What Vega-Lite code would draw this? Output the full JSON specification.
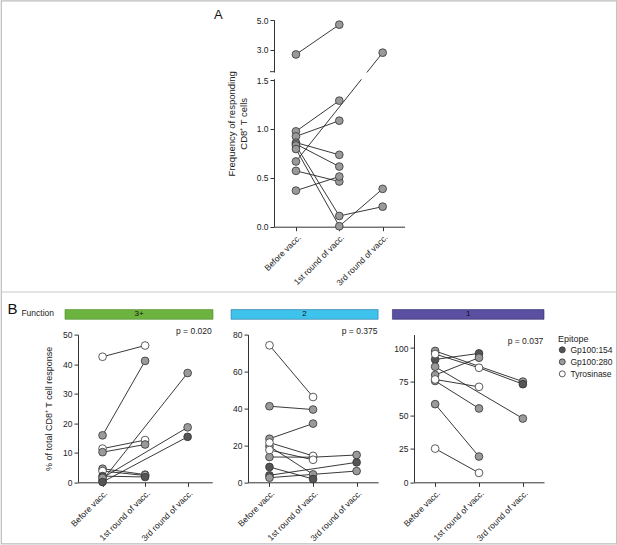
{
  "$schema": "https://vega.github.io/schema/vega-lite/v6.json",
  "padding": 0,
  "autosize": {"type": "pad"},
  "background": "white",
  "config": {
    "font": "Liberation Sans",
    "view": {"stroke": null},
    "axis": {
      "grid": false,
      "domainColor": "#333333",
      "tickColor": "#333333",
      "labelColor": "#222222",
      "titleColor": "#222222",
      "labelFontSize": 8.5,
      "titleFontSize": 9,
      "titleFontWeight": "normal",
      "tickSize": 4,
      "labelPadding": 2
    },
    "text": {"color": "#222222"}
  },
  "datasets": {
    "A": [
      {"id": "a1", "t": 0, "time": "Before vacc.", "value": 2.7},
      {"id": "a1", "t": 1, "time": "1st round of vacc.", "value": 4.69},
      {"id": "a2", "t": 0, "time": "Before vacc.", "value": 0.975},
      {"id": "a2", "t": 1, "time": "1st round of vacc.", "value": 1.289},
      {"id": "a3", "t": 0, "time": "Before vacc.", "value": 0.923},
      {"id": "a3", "t": 1, "time": "1st round of vacc.", "value": 1.084},
      {"id": "a4", "t": 0, "time": "Before vacc.", "value": 0.86},
      {"id": "a4", "t": 1, "time": "1st round of vacc.", "value": 0.735},
      {"id": "a5", "t": 0, "time": "Before vacc.", "value": 0.845},
      {"id": "a5", "t": 1, "time": "1st round of vacc.", "value": 0.615},
      {"id": "a6", "t": 0, "time": "Before vacc.", "value": 0.83},
      {"id": "a6", "t": 1, "time": "1st round of vacc.", "value": 0.11},
      {"id": "a6", "t": 2, "time": "3rd round of vacc.", "value": 0.205},
      {"id": "a7", "t": 0, "time": "Before vacc.", "value": 0.794},
      {"id": "a7", "t": 1, "time": "1st round of vacc.", "value": 0.005},
      {"id": "a7", "t": 2, "time": "3rd round of vacc.", "value": 0.387},
      {"id": "a8", "t": 0, "time": "Before vacc.", "value": 0.667},
      {"id": "a8", "t": 2, "time": "3rd round of vacc.", "value": 2.82},
      {"id": "a9", "t": 0, "time": "Before vacc.", "value": 0.571},
      {"id": "a9", "t": 1, "time": "1st round of vacc.", "value": 0.462},
      {"id": "a10", "t": 0, "time": "Before vacc.", "value": 0.369},
      {"id": "a10", "t": 1, "time": "1st round of vacc.", "value": 0.513}
    ],
    "B": [
      {"panel": "3+", "id": "b1", "t": 0, "time": "Before vacc.", "value": 42.5, "epitope": "Tyrosinase"},
      {"panel": "3+", "id": "b1", "t": 1, "time": "1st round of vacc.", "value": 46.3, "epitope": "Tyrosinase"},
      {"panel": "3+", "id": "b2", "t": 0, "time": "Before vacc.", "value": 15.9, "epitope": "Gp100:280"},
      {"panel": "3+", "id": "b2", "t": 1, "time": "1st round of vacc.", "value": 41.1, "epitope": "Gp100:280"},
      {"panel": "3+", "id": "b3", "t": 0, "time": "Before vacc.", "value": 11.4, "epitope": "Tyrosinase"},
      {"panel": "3+", "id": "b3", "t": 1, "time": "1st round of vacc.", "value": 14.3, "epitope": "Tyrosinase"},
      {"panel": "3+", "id": "b4", "t": 0, "time": "Before vacc.", "value": 10.2, "epitope": "Gp100:280"},
      {"panel": "3+", "id": "b4", "t": 1, "time": "1st round of vacc.", "value": 12.8, "epitope": "Gp100:280"},
      {"panel": "3+", "id": "b5", "t": 0, "time": "Before vacc.", "value": 4.6, "epitope": "Gp100:280"},
      {"panel": "3+", "id": "b5", "t": 1, "time": "1st round of vacc.", "value": 2.6, "epitope": "Gp100:280"},
      {"panel": "3+", "id": "b6", "t": 0, "time": "Before vacc.", "value": 3.8, "epitope": "Tyrosinase"},
      {"panel": "3+", "id": "b6", "t": 1, "time": "1st round of vacc.", "value": 2.3, "epitope": "Tyrosinase"},
      {"panel": "3+", "id": "b7", "t": 0, "time": "Before vacc.", "value": 2.1, "epitope": "Gp100:154"},
      {"panel": "3+", "id": "b7", "t": 1, "time": "1st round of vacc.", "value": 1.8, "epitope": "Gp100:154"},
      {"panel": "3+", "id": "b8", "t": 0, "time": "Before vacc.", "value": 0.7, "epitope": "Gp100:280"},
      {"panel": "3+", "id": "b8", "t": 2, "time": "3rd round of vacc.", "value": 37.0, "epitope": "Gp100:280"},
      {"panel": "3+", "id": "b9", "t": 0, "time": "Before vacc.", "value": 1.5, "epitope": "Gp100:280"},
      {"panel": "3+", "id": "b9", "t": 2, "time": "3rd round of vacc.", "value": 18.6, "epitope": "Gp100:280"},
      {"panel": "3+", "id": "b10", "t": 0, "time": "Before vacc.", "value": 0.1, "epitope": "Gp100:154"},
      {"panel": "3+", "id": "b10", "t": 2, "time": "3rd round of vacc.", "value": 15.4, "epitope": "Gp100:154"},

      {"panel": "2", "id": "c1", "t": 0, "time": "Before vacc.", "value": 74.2, "epitope": "Tyrosinase"},
      {"panel": "2", "id": "c1", "t": 1, "time": "1st round of vacc.", "value": 46.2, "epitope": "Tyrosinase"},
      {"panel": "2", "id": "c2", "t": 0, "time": "Before vacc.", "value": 41.2, "epitope": "Gp100:280"},
      {"panel": "2", "id": "c2", "t": 1, "time": "1st round of vacc.", "value": 39.4, "epitope": "Gp100:280"},
      {"panel": "2", "id": "c3", "t": 0, "time": "Before vacc.", "value": 23.6, "epitope": "Gp100:280"},
      {"panel": "2", "id": "c3", "t": 1, "time": "1st round of vacc.", "value": 31.8, "epitope": "Gp100:280"},
      {"panel": "2", "id": "c6", "t": 0, "time": "Before vacc.", "value": 19.5, "epitope": "Gp100:280"},
      {"panel": "2", "id": "c6", "t": 1, "time": "1st round of vacc.", "value": 4.3, "epitope": "Gp100:280"},
      {"panel": "2", "id": "c7", "t": 0, "time": "Before vacc.", "value": 13.7, "epitope": "Gp100:280"},
      {"panel": "2", "id": "c7", "t": 1, "time": "1st round of vacc.", "value": 13.6, "epitope": "Gp100:280"},
      {"panel": "2", "id": "c7", "t": 2, "time": "3rd round of vacc.", "value": 14.8, "epitope": "Gp100:280"},
      {"panel": "2", "id": "c8", "t": 0, "time": "Before vacc.", "value": 8.3, "epitope": "Gp100:154"},
      {"panel": "2", "id": "c8", "t": 1, "time": "1st round of vacc.", "value": 1.8, "epitope": "Gp100:154"},
      {"panel": "2", "id": "c9", "t": 0, "time": "Before vacc.", "value": 3.8, "epitope": "Gp100:154"},
      {"panel": "2", "id": "c9", "t": 2, "time": "3rd round of vacc.", "value": 10.8, "epitope": "Gp100:154"},
      {"panel": "2", "id": "c10", "t": 0, "time": "Before vacc.", "value": 2.5, "epitope": "Gp100:280"},
      {"panel": "2", "id": "c10", "t": 2, "time": "3rd round of vacc.", "value": 6.1, "epitope": "Gp100:280"},
      {"panel": "2", "id": "c4", "t": 0, "time": "Before vacc.", "value": 21.5, "epitope": "Tyrosinase"},
      {"panel": "2", "id": "c4", "t": 1, "time": "1st round of vacc.", "value": 14.3, "epitope": "Tyrosinase"},
      {"panel": "2", "id": "c5", "t": 0, "time": "Before vacc.", "value": 17.5, "epitope": "Tyrosinase"},
      {"panel": "2", "id": "c5", "t": 1, "time": "1st round of vacc.", "value": 12.2, "epitope": "Tyrosinase"},

      {"panel": "1", "id": "d1", "t": 0, "time": "Before vacc.", "value": 97.8, "epitope": "Gp100:280"},
      {"panel": "1", "id": "d1", "t": 2, "time": "3rd round of vacc.", "value": 75.0, "epitope": "Gp100:280"},
      {"panel": "1", "id": "d3", "t": 0, "time": "Before vacc.", "value": 91.5, "epitope": "Gp100:154"},
      {"panel": "1", "id": "d3", "t": 1, "time": "1st round of vacc.", "value": 96.0, "epitope": "Gp100:154"},
      {"panel": "1", "id": "d4", "t": 0, "time": "Before vacc.", "value": 79.9, "epitope": "Gp100:280"},
      {"panel": "1", "id": "d4", "t": 1, "time": "1st round of vacc.", "value": 92.8, "epitope": "Gp100:280"},
      {"panel": "1", "id": "d5", "t": 0, "time": "Before vacc.", "value": 86.1, "epitope": "Gp100:280"},
      {"panel": "1", "id": "d5", "t": 2, "time": "3rd round of vacc.", "value": 47.5, "epitope": "Gp100:280"},
      {"panel": "1", "id": "d7", "t": 0, "time": "Before vacc.", "value": 75.5, "epitope": "Gp100:280"},
      {"panel": "1", "id": "d7", "t": 1, "time": "1st round of vacc.", "value": 55.0, "epitope": "Gp100:280"},
      {"panel": "1", "id": "d8", "t": 0, "time": "Before vacc.", "value": 58.2, "epitope": "Gp100:280"},
      {"panel": "1", "id": "d8", "t": 1, "time": "1st round of vacc.", "value": 19.2, "epitope": "Gp100:280"},
      {"panel": "1", "id": "d2", "t": 0, "time": "Before vacc.", "value": 95.5, "epitope": "Tyrosinase"},
      {"panel": "1", "id": "d2", "t": 1, "time": "1st round of vacc.", "value": 85.3, "epitope": "Tyrosinase"},
      {"panel": "1", "id": "d2", "t": 2, "time": "3rd round of vacc.", "value": 73.1, "epitope": "Gp100:154"},
      {"panel": "1", "id": "d6", "t": 0, "time": "Before vacc.", "value": 76.6, "epitope": "Tyrosinase"},
      {"panel": "1", "id": "d6", "t": 1, "time": "1st round of vacc.", "value": 71.1, "epitope": "Tyrosinase"},
      {"panel": "1", "id": "d9", "t": 0, "time": "Before vacc.", "value": 25.1, "epitope": "Tyrosinase"},
      {"panel": "1", "id": "d9", "t": 1, "time": "1st round of vacc.", "value": 7.0, "epitope": "Tyrosinase"}
    ]
  },
  "columns": 2,
  "bounds": "flush",
  "spacing": {"row": 107.6, "column": 35},
  "resolve": {"scale": {"fill": "independent"}, "legend": {"fill": "independent"}},
  "concat": [
    {
      "width": 160.4,
      "height": 206.7,
      "data": {"values": [{}]},
      "mark": {"type": "text", "fontSize": 13, "align": "left", "baseline": "alphabetic", "color": "#111111"},
      "encoding": {
        "x": {"datum": 0.8479, "type": "quantitative", "scale": {"domain": [0, 1], "nice": false, "zero": false}, "axis": null},
        "y": {"datum": 1.0048, "type": "quantitative", "scale": {"domain": [0, 1], "nice": false, "zero": false}, "axis": null},
        "text": {"value": "A"}
      }
    },
    {
      "width": 130.6,
      "height": 206.7,
      "resolve": {"scale": {"x": "independent"}, "axis": {"x": "independent"}},
      "layer": [
        {
          "data": {"name": "A"},
          "encoding": {
            "x": {
              "field": "time", "type": "ordinal",
              "scale": {"type": "point", "domain": ["Before vacc.", "1st round of vacc.", "3rd round of vacc."], "padding": 0.506, "align": 0.5},
              "axis": {"title": null, "labelAngle": -45}
            },
            "y": {
              "field": "value", "type": "quantitative",
              "scale": {"domain": [0, 1.5, 1.55, 5], "range": [206.7, 60, 51.7, 0], "nice": false, "zero": false},
              "axis": {
                "title": ["Frequency of responding", "CD8⁺ T cells"],
                "titleFontSize": 9.5,
                "titlePadding": 8,
                "values": [0, 0.5, 1, 1.5, 3, 5],
                "labelOverlap": false,
                "format": ".1f"
              }
            }
          },
          "layer": [
            {
              "mark": {"type": "line", "color": "#222222", "strokeWidth": 0.9},
              "encoding": {"detail": {"field": "id"}, "order": {"field": "t", "type": "quantitative"}}
            },
            {
              "mark": {"type": "point", "shape": "circle", "filled": true, "size": 60, "fill": "#9a9a9a", "stroke": "#333333", "strokeWidth": 0.8, "opacity": 1}
            }
          ]
        },
        {
          "data": {"values": [{}]},
          "layer": [
            {
              "mark": {"type": "rect", "fill": "white"},
              "encoding": {
                "x": {"datum": -0.04, "type": "quantitative", "scale": {"domain": [0, 1], "nice": false, "zero": false}, "axis": null},
                "x2": {"datum": 1.04},
                "y": {"datum": 1.505, "type": "quantitative"},
                "y2": {"datum": 1.545}
              }
            },
            {
              "mark": {"type": "rule", "stroke": "#333333", "strokeWidth": 1},
              "encoding": {
                "x": {"datum": -0.0306, "type": "quantitative"},
                "x2": {"datum": 0},
                "y": {"datum": 1.55, "type": "quantitative"}
              }
            }
          ]
        }
      ]
    },
    {
      "bounds": "flush",
      "spacing": 35,
      "resolve": {"scale": {"fill": "independent"}, "legend": {"fill": "independent"}},
      "hconcat": [
        {
          "width": 134.2,
          "height": 147.7,
          "resolve": {"scale": {"x": "independent", "y": "independent"}, "axis": {"x": "independent", "y": "independent"}},
          "layer": [
            {
              "data": {"name": "B"},
              "transform": [{"filter": "datum.panel == '3+'"}],
              "encoding": {
                "x": {
                  "field": "time", "type": "ordinal",
                  "scale": {"type": "point", "domain": ["Before vacc.", "1st round of vacc.", "3rd round of vacc."], "padding": 0.577, "align": 0.5},
                  "axis": {"title": null, "labelAngle": -45}
                },
                "y": {
                  "field": "value", "type": "quantitative",
                  "scale": {"domain": [0, 50], "nice": false},
                  "axis": {"title": "% of total CD8⁺ T cell response", "values": [0, 10, 20, 30, 40, 50], "titlePadding": 9}
                }
              },
              "layer": [
                {
                  "mark": {"type": "line", "color": "#222222", "strokeWidth": 0.9},
                  "encoding": {"detail": {"field": "id"}, "order": {"field": "t", "type": "quantitative"}}
                },
                {
                  "mark": {"type": "point", "shape": "circle", "filled": true, "size": 60, "stroke": "#333333", "strokeWidth": 0.8, "opacity": 1},
                  "encoding": {
                    "fill": {"field": "epitope", "type": "nominal", "scale": {"domain": ["Gp100:154", "Gp100:280", "Tyrosinase"], "range": ["#555555", "#9a9a9a", "#ffffff"]}, "legend": null}
                  }
                }
              ]
            },
            {
              "data": {"values": [{}]},
              "encoding": {
                "x": {"datum": 0, "type": "quantitative", "scale": {"domain": [0, 1], "nice": false, "zero": false}, "axis": null},
                "y": {"datum": 0, "type": "quantitative", "scale": {"domain": [0, 1], "nice": false, "zero": false}, "axis": null}
              },
              "layer": [
                {
                  "mark": {"type": "rect", "fill": "white", "fillOpacity": 0, "stroke": "#bdbdbd", "strokeWidth": 1.2},
                  "encoding": {
                    "x": {"datum": -0.5715, "type": "quantitative"},
                    "x2": {"datum": 4.0142},
                    "y": {"datum": 3.2593, "type": "quantitative"},
                    "y2": {"datum": -0.4171}
                  }
                },
                {
                  "mark": {"type": "rule", "stroke": "#c8c8c8", "strokeWidth": 1.2},
                  "encoding": {
                    "x": {"datum": -0.5715, "type": "quantitative"},
                    "x2": {"datum": 4.0142},
                    "y": {"datum": 1.2884, "type": "quantitative"}
                  }
                },
                {
                  "mark": {"type": "rect", "fill": "#6cb33f", "stroke": "#4f8a2c", "strokeWidth": 0.6},
                  "encoding": {
                    "x": {"datum": -0.0969, "type": "quantitative"},
                    "x2": {"datum": 1.006},
                    "y": {"datum": 1.1693, "type": "quantitative"},
                    "y2": {"datum": 1.1036}
                  }
                },
                {
                  "mark": {"type": "text", "fontSize": 8, "align": "center", "baseline": "middle", "color": "#111111"},
                  "encoding": {
                    "x": {"datum": 0.4545, "type": "quantitative"},
                    "y": {"datum": 1.1364, "type": "quantitative"},
                    "text": {"value": "3+"}
                  }
                },
                {
                  "mark": {"type": "text", "fontSize": 8.5, "align": "right", "baseline": "alphabetic"},
                  "encoding": {
                    "x": {"datum": 0.9963, "type": "quantitative"},
                    "y": {"datum": 1.0068, "type": "quantitative"},
                    "text": {"value": "p = 0.020"}
                  }
                },
                {
                  "mark": {"type": "text", "fontSize": 15, "align": "left", "baseline": "alphabetic", "color": "#111111"},
                  "encoding": {
                    "x": {"datum": -0.5261, "type": "quantitative"},
                    "y": {"datum": 1.1422, "type": "quantitative"},
                    "text": {"value": "B"}
                  }
                },
                {
                  "mark": {"type": "text", "fontSize": 8.5, "align": "left", "baseline": "alphabetic"},
                  "encoding": {
                    "x": {"datum": -0.4218, "type": "quantitative"},
                    "y": {"datum": 1.1259, "type": "quantitative"},
                    "text": {"value": "Function"}
                  }
                }
              ]
            }
          ]
        },
        {
          "width": 130.1,
          "height": 147.7,
          "resolve": {"scale": {"x": "independent", "y": "independent"}, "axis": {"x": "independent", "y": "independent"}},
          "layer": [
            {
              "data": {"name": "B"},
              "transform": [{"filter": "datum.panel == '2'"}],
              "encoding": {
                "x": {
                  "field": "time", "type": "ordinal",
                  "scale": {"type": "point", "domain": ["Before vacc.", "1st round of vacc.", "3rd round of vacc."], "padding": 0.493, "align": 0.5},
                  "axis": {"title": null, "labelAngle": -45}
                },
                "y": {
                  "field": "value", "type": "quantitative",
                  "scale": {"domain": [0, 80], "nice": false},
                  "axis": {"title": null, "values": [0, 20, 40, 60, 80]}
                }
              },
              "layer": [
                {
                  "mark": {"type": "line", "color": "#222222", "strokeWidth": 0.9},
                  "encoding": {"detail": {"field": "id"}, "order": {"field": "t", "type": "quantitative"}}
                },
                {
                  "mark": {"type": "point", "shape": "circle", "filled": true, "size": 60, "stroke": "#333333", "strokeWidth": 0.8, "opacity": 1},
                  "encoding": {
                    "fill": {"field": "epitope", "type": "nominal", "scale": {"domain": ["Gp100:154", "Gp100:280", "Tyrosinase"], "range": ["#555555", "#9a9a9a", "#ffffff"]}, "legend": null}
                  }
                }
              ]
            },
            {
              "data": {"values": [{}]},
              "encoding": {
                "x": {"datum": 0, "type": "quantitative", "scale": {"domain": [0, 1], "nice": false, "zero": false}, "axis": null},
                "y": {"datum": 0, "type": "quantitative", "scale": {"domain": [0, 1], "nice": false, "zero": false}, "axis": null}
              },
              "layer": [
                {
                  "mark": {"type": "rect", "fill": "#3ec3ec", "stroke": "#2a6f9e", "strokeWidth": 0.6},
                  "encoding": {
                    "x": {"datum": -0.13, "type": "quantitative"},
                    "x2": {"datum": 1.0},
                    "y": {"datum": 1.1693, "type": "quantitative"},
                    "y2": {"datum": 1.1036}
                  }
                },
                {
                  "mark": {"type": "text", "fontSize": 8, "align": "center", "baseline": "middle", "color": "#111111"},
                  "encoding": {
                    "x": {"datum": 0.435, "type": "quantitative"},
                    "y": {"datum": 1.1364, "type": "quantitative"},
                    "text": {"value": "2"}
                  }
                },
                {
                  "mark": {"type": "text", "fontSize": 8.5, "align": "right", "baseline": "alphabetic"},
                  "encoding": {
                    "x": {"datum": 0.995, "type": "quantitative"},
                    "y": {"datum": 1.0068, "type": "quantitative"},
                    "text": {"value": "p = 0.375"}
                  }
                }
              ]
            }
          ]
        },
        {
          "width": 130,
          "height": 147.7,
          "resolve": {
            "scale": {"x": "independent", "y": "independent"},
            "axis": {"x": "independent", "y": "independent"}
          },
          "layer": [
            {
              "data": {"name": "B"},
              "transform": [{"filter": "datum.panel == '1'"}],
              "encoding": {
                "x": {
                  "field": "time", "type": "ordinal",
                  "scale": {"type": "point", "domain": ["Before vacc.", "1st round of vacc.", "3rd round of vacc."], "padding": 0.482, "align": 0.5},
                  "axis": {"title": null, "labelAngle": -45}
                },
                "y": {
                  "field": "value", "type": "quantitative",
                  "scale": {"domain": [0, 110], "nice": false},
                  "axis": {"title": null, "values": [0, 25, 50, 75, 100]}
                }
              },
              "layer": [
                {
                  "mark": {"type": "line", "color": "#222222", "strokeWidth": 0.9},
                  "encoding": {"detail": {"field": "id"}, "order": {"field": "t", "type": "quantitative"}}
                },
                {
                  "mark": {"type": "point", "shape": "circle", "filled": true, "size": 60, "stroke": "#333333", "strokeWidth": 0.8, "opacity": 1},
                  "encoding": {
                    "fill": {
                      "field": "epitope", "type": "nominal",
                      "scale": {"domain": ["Gp100:154", "Gp100:280", "Tyrosinase"], "range": ["#555555", "#9a9a9a", "#ffffff"]},
                      "legend": {
                        "title": "Epitope",
                        "orient": "right",
                        "offset": 14,
                        "padding": 0,
                        "titleFontSize": 9,
                        "titleFontWeight": "normal",
                        "titleColor": "#222222",
                        "titlePadding": 2,
                        "labelFontSize": 8.5,
                        "labelColor": "#222222",
                        "labelOffset": 4,
                        "symbolType": "circle",
                        "symbolSize": 36,
                        "symbolStrokeColor": "#333333",
                        "symbolStrokeWidth": 0.8,
                        "rowPadding": 2
                      }
                    }
                  }
                }
              ]
            },
            {
              "data": {"values": [{}]},
              "encoding": {
                "x": {"datum": 0, "type": "quantitative", "scale": {"domain": [0, 1], "nice": false, "zero": false}, "axis": null},
                "y": {"datum": 0, "type": "quantitative", "scale": {"domain": [0, 1], "nice": false, "zero": false}, "axis": null}
              },
              "layer": [
                {
                  "mark": {"type": "rect", "fill": "#5a4fa0", "stroke": "#2e2868", "strokeWidth": 0.6},
                  "encoding": {
                    "x": {"datum": -0.166, "type": "quantitative"},
                    "x2": {"datum": 1.0},
                    "y": {"datum": 1.1693, "type": "quantitative"},
                    "y2": {"datum": 1.1036}
                  }
                },
                {
                  "mark": {"type": "text", "fontSize": 8, "align": "center", "baseline": "middle", "color": "#111111"},
                  "encoding": {
                    "x": {"datum": 0.417, "type": "quantitative"},
                    "y": {"datum": 1.1364, "type": "quantitative"},
                    "text": {"value": "1"}
                  }
                },
                {
                  "mark": {"type": "text", "fontSize": 8.5, "align": "right", "baseline": "alphabetic"},
                  "encoding": {
                    "x": {"datum": 0.995, "type": "quantitative"},
                    "y": {"datum": 0.9391, "type": "quantitative"},
                    "text": {"value": "p = 0.037"}
                  }
                }
              ]
            }
          ]
        }
      ]
    }
  ]
}
